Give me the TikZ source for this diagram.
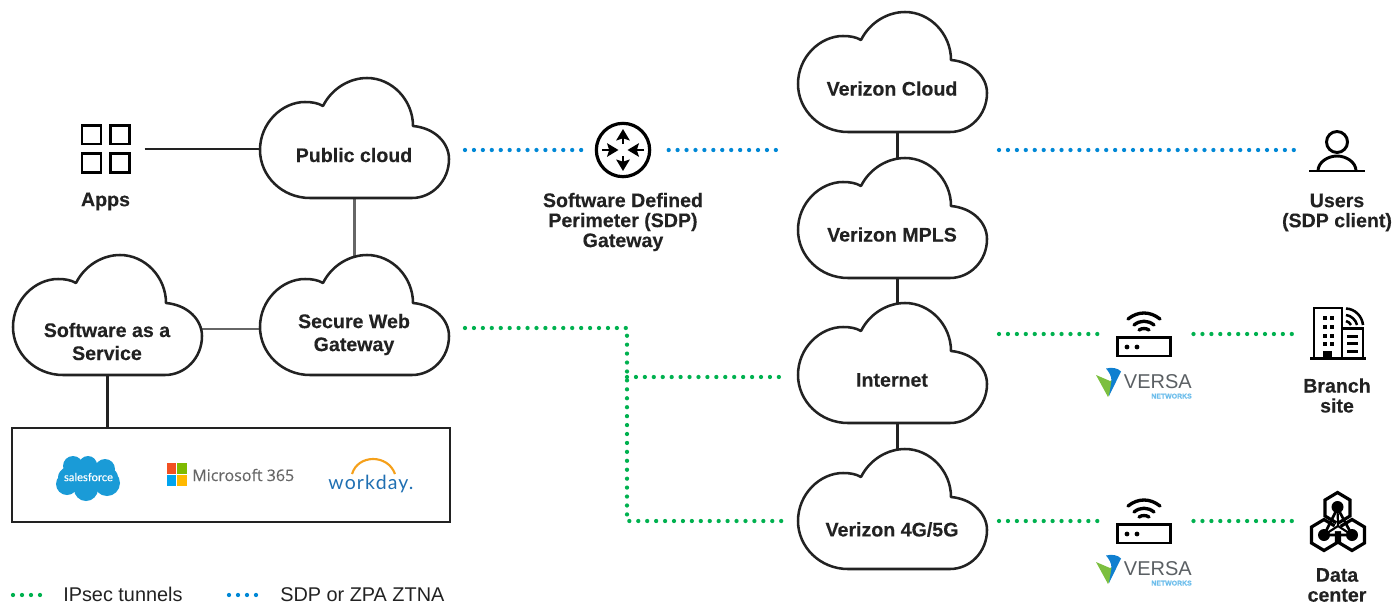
\documentclass[tikz,border=0pt]{standalone}
\usepackage{fontspec}
\setmainfont[BoldFeatures={FakeBold=0.25}]{Liberation Sans}
\newfontfamily\logofont{Lato}
\newfontfamily\sflogofont[FakeBold=0.2]{Lato}
\newfontfamily\wdfont[LetterSpace=6]{Lato}
\newfontfamily\msfont[FakeBold=0.15]{Open Sans}
\usetikzlibrary{arrows.meta}
\pgfdeclarelayer{back}
\pgfsetlayers{back,main}
\definecolor{ink}{HTML}{222222}
\definecolor{solidgray}{HTML}{666666}
\definecolor{tunnelgreen}{HTML}{00B14F}
\definecolor{sdpblue}{HTML}{0088D6}
\definecolor{sfblue}{HTML}{1A9BD7}
\definecolor{wdblue}{HTML}{1F6FB2}
\definecolor{wdorange}{HTML}{F5A01A}
\definecolor{versagray}{HTML}{5A5F63}
\definecolor{versalight}{HTML}{6CBDEB}
\definecolor{versagreen}{HTML}{7CBF3F}
\definecolor{versablue}{HTML}{0F7FD0}
\definecolor{msred}{HTML}{F25022}
\definecolor{msgreen}{HTML}{7FBA00}
\definecolor{msblue}{HTML}{00A4EF}
\definecolor{msyellow}{HTML}{FFB900}
\tikzset{
  cloudline/.style={draw=ink,fill=white,line width=1.9pt,line join=round},
  cloudbox/.style={minimum width=141.75pt,minimum height=90pt,inner sep=0pt,outer sep=0pt},
  iconbox/.style={inner sep=0pt,outer sep=0pt},
  iconline/.style={draw=black,line width=2.2pt},
  title/.style={font=\fontsize{14.7}{15}\selectfont\bfseries,text=ink,align=center,inner sep=0pt},
  legend/.style={font=\fontsize{14.9}{15}\selectfont,text=ink,anchor=west,inner sep=0pt},
  solid link/.style={line width=1.9pt,draw=ink},
  gray link/.style={line width=2.2pt,draw=solidgray},
  dots/.style={line width=3.2pt,line cap=round,dash pattern=on 0pt off 6.7pt},
  greendots/.style={dots,draw=tunnelgreen},
  bluedots/.style={dots,draw=sdpblue},
}
\newcommand{\cloudat}[5]{% name, left, top, text y, text
  \node[cloudbox] (#1) at (#2+94.5,#3+60) {};
  \begin{scope}[shift={(#2,#3)}]
  \path[cloudline] (63,28) .. controls (72,10) and (90,0) .. (107,0)
    .. controls (132,0) and (153,22) .. (153,48)
    .. controls (175,50) and (189,65) .. (189,81)
    .. controls (189,103) and (172,120) .. (152,120) -- (50,120)
    .. controls (22,120) and (0,98) .. (0,72)
    .. controls (0,45) and (22,24) .. (45,24)
    .. controls (52,24) and (58,25) .. (63,28) -- cycle;
  \end{scope}
  \node[title] (#1-label) at (#2+94,#4) {#5};
}
\newcommand{\routerat}[3]{% name, x, y of centre
  \node[iconbox,minimum width=41.25pt,minimum height=33pt] (#1) at (#2,#3) {};
  \begin{scope}[shift={(#2,#3)}]
    \draw[iconline] (-26.5,3.5) rectangle (26.5,22);
    \fill (-17,13) circle (2.4); \fill (-7,13) circle (2.4);
    \draw[iconline,line cap=round,line width=2.5pt] (-16,-15) .. controls (-6,-23) and (6,-23) .. (16,-15);
    \draw[iconline,line cap=round,line width=2.5pt] (-10,-9) .. controls (-4,-14) and (4,-14) .. (10,-9);
    \draw[iconline,line cap=round,line width=2.5pt] (-5,-4) .. controls (-2,-6) and (2,-6) .. (5,-4);
    % Versa mark
    \fill[versagreen] (-48,41) -- (-34,47) -- (-27,44) -- (-36,63) -- cycle;
    \fill[versablue] (-38,34.5) .. controls (-32,33) and (-26,34) .. (-23,37.5) -- (-35,62) -- (-32.5,47) .. controls (-32.5,42) and (-35,38) .. (-38,34.5) -- cycle;
  \end{scope}
  \node[inner sep=0pt,text=versagray,font=\fontsize{15}{15}\selectfont,anchor=base east] (#1-versa) at (#2+48,#3+54) {VERSA};
  \node[inner sep=0pt,text=versalight,font=\fontsize{5.2}{5}\selectfont\bfseries,anchor=base east] (#1-net) at (#2+48,#3+64.5) {NETWORKS};
}
\begin{document}
\begin{tikzpicture}[x=.75pt,y=-.75pt]
\useasboundingbox (0,0) rectangle (1394,603);
% clouds
\cloudat{pc}{260}{78}{155}{Public cloud}
\cloudat{swg}{260}{255}{334.5}{Secure Web\\[2.25pt]Gateway}
\cloudat{saas}{13}{255}{341.5}{Software as a\\[2.25pt]Service}
\cloudat{vc}{798}{12}{88.5}{Verizon Cloud}
\cloudat{mpls}{798}{158}{234.5}{Verizon MPLS}
\cloudat{inet}{798}{303}{380}{Internet}
\cloudat{gfive}{798}{449}{529.5}{Verizon 4G/5G}
% apps
\node[iconbox,minimum width=36pt,minimum height=36pt] (apps) at (105.5,149) {};
\draw[iconline,line width=1.8pt] (82,125.5) rectangle (101,144) (110.5,125.5) rectangle (129.5,144)
  (82,153.5) rectangle (101,172.5) (110.5,153.5) rectangle (129.5,172.5);
\node[title] (apps-label) at (105.5,201.5) {Apps};
% SDP gateway
\node[iconbox,circle,draw=black,line width=2.4pt,minimum size=40pt] (sdp) at (623,150) {};
\begin{scope}[line width=2.1pt,-{Stealth[length=8.5pt,width=10pt,inset=1.5pt]}]
  \draw (623,144) -- (623,129);
  \draw (623,156) -- (623,171);
  \draw (602,150) -- (618.5,150);
  \draw (644,150) -- (627.5,150);
\end{scope}
\node[title] (sdp-label) at (623,222) {Software Defined\\Perimeter (SDP)\\Gateway};
% users
\node[iconbox,minimum width=42pt,minimum height=33pt] (users) at (1337,150) {};
\draw[iconline] (1337,142) circle (10.5);
\draw[iconline] (1309,171) -- (1365,171);
\draw[iconline] (1318,171) .. controls (1318,162) and (1328,156) .. (1337,156) .. controls (1346,156) and (1356,162) .. (1356,171);
\node[title] (users-label) at (1337,212.5) {Users\\(SDP client)};
% routers
\routerat{ra}{1144}{334}
\routerat{rb}{1144}{521}
% branch site
\node[iconbox,minimum width=42pt,minimum height=37.5pt] (branch) at (1338,334) {};
\draw[iconline] (1310,358.5) -- (1366,358.5);
\draw[iconline] (1314,358) -- (1314,308) -- (1342,308) -- (1342,358);
\draw[iconline] (1343,328.5) -- (1363,328.5) -- (1363,358);
\foreach \wy in {316,325,334,342}{\fill (1322.5,\wy) rectangle +(4,4); \fill (1330,\wy) rectangle +(4,4);}
\fill (1323,351) rectangle (1332,358);
\foreach \wy in {334.5,342,349.5}{\fill (1346.5,\wy) rectangle +(11.5,3.2);}
\draw[iconline,line width=1.9pt] (1346,308.5) .. controls (1355,309) and (1362,316) .. (1363,325);
\draw[iconline,line width=1.9pt] (1346,315) .. controls (1351,315.5) and (1356,320) .. (1357,325);
\draw[iconline,line width=1.9pt] (1346,321) .. controls (1348,321.5) and (1350,323) .. (1351,325);
\node[title] (branch-label) at (1337,395.5) {Branch\\site};
% data centre
\node[iconbox,minimum width=42pt,minimum height=42pt] (dc) at (1338,521) {};
\foreach \hx/\hy in {1337.5/508,1324/535,1352/535}{
  \draw[iconline,line width=2.4pt,line join=miter] (\hx,\hy-15.5) -- (\hx+12.5,\hy-8) -- (\hx+12.5,\hy+8) -- (\hx,\hy+15.5) -- (\hx-12.5,\hy+8) -- (\hx-12.5,\hy-8) -- cycle;
}
\draw[black,line width=2pt,line join=round] (1337.5,508) -- (1324,535) -- (1352,535) -- cycle;
\fill[white] (1337.5,521) -- (1332,531) -- (1343,531) -- cycle;
\draw[black,line width=1.6pt] (1337.5,508) -- (1338,526) (1324,535) -- (1338,526) -- (1352,535);
\foreach \hx/\hy in {1337.5/507,1324/535,1352/535}{\fill (\hx,\hy) circle (6);}
\node[title] (dc-label) at (1337,585) {Data\\center};
% SaaS panel
\node[draw=ink,line width=2.2pt,minimum width=328.5pt,minimum height=70.5pt,inner sep=0pt] (panel) at (231,475) {};
\fill[sfblue] (88,477) ellipse (30 and 15);
\foreach \cx/\cy/\cr in {73/466/10,88/465/9,105/469/10,67/484/11,86/489/12,107/483/13}{\fill[sfblue] (\cx,\cy) circle (\cr);}
\node[inner sep=0pt,text=white,font=\sflogofont\fontsize{8.4}{8}\selectfont] (sf) at (88.5,477) {salesforce};
\fill[msred] (166.5,463) rectangle (176,474);
\fill[msgreen] (177,463) rectangle (187,474);
\fill[msblue] (166.5,475) rectangle (176,486);
\fill[msyellow] (177,475) rectangle (187,486);
\node[inner sep=0pt,text=black!60,anchor=west,font=\msfont\fontsize{12}{13}\selectfont] (ms) at (192,475) {Microsoft 365};
\node[inner sep=0pt,text=wdblue,font=\wdfont\fontsize{14.6}{16}\selectfont,anchor=base] (wd) at (371,489) {workday.};
\draw[wdorange,line width=1.6pt] (352,474) .. controls (358,454) and (388,454) .. (395,474);
% legend
\coordinate (lga) at (13,595); \coordinate (lba) at (229,595);
\draw[greendots,dash pattern=on 0pt off 6.75pt] (lga) -- ++(28,0);
\draw[bluedots,dash pattern=on 0pt off 6.75pt] (lba) -- ++(28,0);
\node[legend] (lg-text) at (63,594.5) {IPsec tunnels};
\node[legend] (lb-text) at (280,594.5) {SDP or ZPA ZTNA};
% connectors
\begin{pgfonlayer}{back}
\draw[solid link,shorten <=11.25pt] (apps.east) -- (apps.east -| pc.west);
\draw[gray link] (pc.south) -- ([xshift=0pt,yshift=-8pt]swg.north);
\draw[gray link] (saas.east |- 0,329) -- (swg.west |- 0,329);
\draw[solid link] ([xshift=0pt]saas.south) -- (saas.south |- panel.north);
\draw[solid link] ([xshift=3.75pt]vc.south) -- ([xshift=3.75pt,yshift=-15pt]mpls.north);
\draw[solid link] ([xshift=3.75pt]mpls.south) -- ([xshift=3.75pt,yshift=-15pt]inet.north);
\draw[solid link] ([xshift=3.75pt]inet.south) -- ([xshift=3.75pt,yshift=-15pt]gfive.north);
\end{pgfonlayer}
\draw[bluedots,shorten <=12pt,shorten >=9.75pt] (pc.east |- sdp.west) -- (sdp.west);
\draw[bluedots,shorten <=14.25pt,shorten >=12pt] (sdp.east) -- (sdp.east -| vc.west);
\draw[bluedots,shorten <=9pt,shorten >=7.5pt] (users.west -| vc.east) -- (users.west);
\draw[greendots,shorten >=11pt] ([yshift=-9.75pt]swg.east) ++(16,0) -| (627,521) -- ([yshift=-9pt]gfive.west);
\coordinate (gbus) at (627,377);
\draw[greendots,shorten >=11pt] (gbus) -- (gbus -| inet.west);
\draw[greendots,shorten <=9pt,shorten >=10.5pt] (ra.west -| inet.east) -- (ra.west);
\draw[greendots,shorten <=16.5pt,shorten >=9.5pt] (ra.east) -- (branch.west);
\draw[greendots,shorten <=9pt,shorten >=10.5pt] (rb.west -| gfive.east) -- (rb.west);
\draw[greendots,shorten <=16.5pt,shorten >=9.5pt] (rb.east) -- (dc.west);
\end{tikzpicture}
\end{document}
